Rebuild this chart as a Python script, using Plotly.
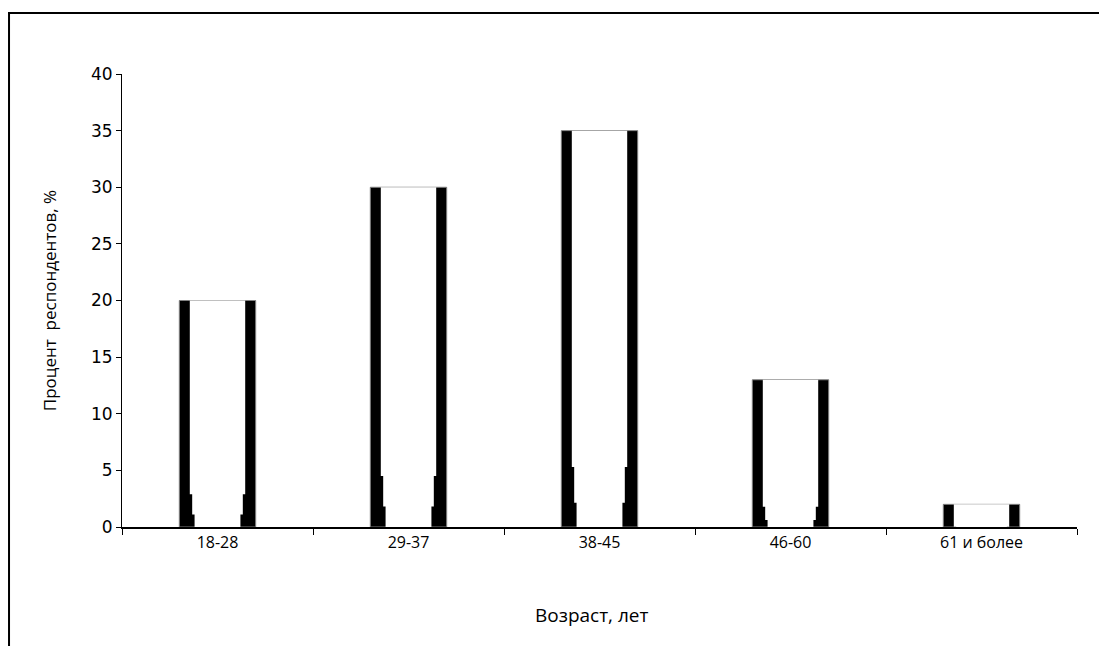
import plotly.graph_objects as go

categories = ["18-28", "29-37", "38-45", "46-60", "61 и более"]
values = [20, 30, 35, 13, 2]
y_ticks = [0, 5, 10, 15, 20, 25, 30, 35, 40]

FONT = "Open Sans"
OUTER_W = 0.40
# white centre drawn in bands, narrowest (lowest) first: (lower fraction, upper fraction, width) — style only
BANDS = [(0.0, 0.07, 0.24), (0.07, 0.16, 0.265), (0.16, 1.0, 0.29)]
OVERLAP = 0.3  # axis units, hides seams between bands

fig = go.Figure()
# outer dark bar
fig.add_trace(go.Bar(x=categories, y=values, width=OUTER_W,
                     marker=dict(color="black", line=dict(width=1, color="#808080")),
                     hoverinfo="skip", showlegend=False))
# white centre, narrowing towards the base
for lo, hi, w in BANDS:
    bases = [max(0.0, v * lo - (OVERLAP if lo > 0 else 0.0)) for v in values]
    tops = [v * hi for v in values]
    fig.add_trace(go.Bar(x=categories,
                         y=[t - b for t, b in zip(tops, bases)],
                         base=bases,
                         width=w,
                         marker=dict(color="white", line=dict(width=0)),
                         hoverinfo="skip", showlegend=False))

fig.update_layout(
    barmode="overlay",
    width=1099, height=638,
    margin=dict(l=114, r=30, t=66, b=119),
    paper_bgcolor="white", plot_bgcolor="white",
    font=dict(family=FONT, size=15, color="black"),
    xaxis=dict(
        type="category",
        range=[-0.5, 4.5],
        showline=True, linecolor="black", linewidth=2,
        ticks="outside", tickson="boundaries", ticklen=6, tickcolor="black", tickwidth=1,
        showgrid=False, zeroline=False,
        tickfont=dict(family=FONT, size=16),
    ),
    yaxis=dict(
        range=[0, 40],
        tickvals=y_ticks,
        showline=True, linecolor="black", linewidth=1,
        ticks="outside", ticklen=5, tickcolor="black",
        showgrid=False, zeroline=False,
        tickfont=dict(family="DejaVu Sans", size=17),
        title=dict(text="Процент  респондентов, %", font=dict(family=FONT, size=17), standoff=30),
    ),
    annotations=[
        dict(text="Возраст, лет", xref="paper", yref="paper", x=0.492, y=-0.194,
             xanchor="center", yanchor="middle", showarrow=False,
             font=dict(family=FONT, size=19, color="black")),
    ],
    shapes=[
        dict(type="rect", xref="paper", yref="paper",
             x0=-0.1183, x1=1.3, y0=-0.6, y1=1.1347,
             line=dict(color="black", width=2), fillcolor="rgba(0,0,0,0)", layer="below"),
    ],
)

fig.write_html("out.html")
